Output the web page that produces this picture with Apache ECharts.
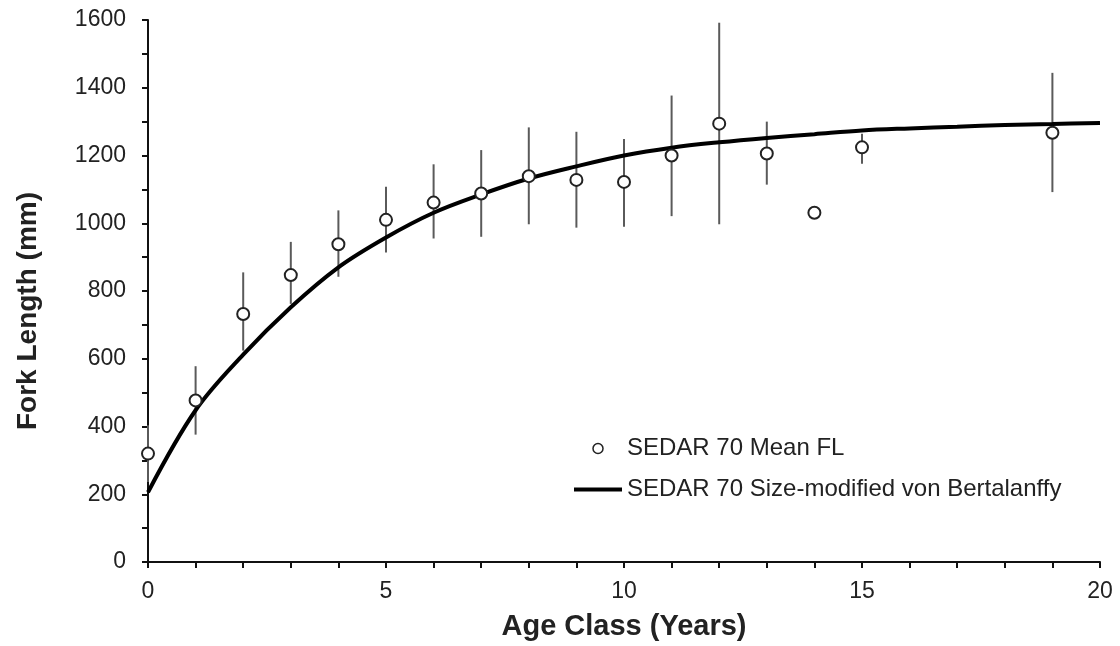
<!DOCTYPE html>
<html>
<head>
<meta charset="utf-8">
<script src="https://cdn.jsdelivr.net/npm/echarts@6/dist/echarts.min.js"></script>
<style>html,body{margin:0;padding:0;background:#fff}#chart{width:1120px;height:646px}</style>
</head>
<body>
<div id="chart"></div>
<script>
// Observed mean fork length by age class, with error bar ends
const ages   = [0, 1, 2, 3, 4, 5, 6, 7, 8, 9, 10, 11, 12, 13, 14, 15, 19];
const meanFL = [320, 477, 732, 847, 938, 1010, 1061, 1088, 1139, 1128, 1122, 1200, 1294, 1206, 1031, 1224, 1267];
const lowFL  = [236, 376, 624, 762, 842, 914, 955, 960, 997, 987, 990, 1021, 997, 1114, null, 1176, 1092];
const highFL = [404, 578, 855, 945, 1038, 1108, 1174, 1216, 1283, 1270, 1249, 1377, 1592, 1300, null, 1264, 1444];
// Size-modified von Bertalanffy curve
const curveAges = [0, 1, 2, 3, 4, 5, 6, 7, 8, 9, 10, 11, 12, 13, 14, 15, 16, 17, 18, 19, 20];
const curveFL   = [206, 448, 612, 752, 870, 958, 1031, 1085, 1132, 1168, 1200, 1223, 1239, 1252, 1263, 1274, 1280, 1285, 1290, 1293, 1296];
const xTickLabels = [0, 5, 10, 15, 20];
const yTickLabels = [0, 200, 400, 600, 800, 1000, 1200, 1400, 1600];
const seriesNames = ['SEDAR 70 Mean FL', 'SEDAR 70 Size-modified von Bertalanffy'];

const FONT = 'Liberation Sans, Arial, sans-serif';
const meanData = ages.map((a, i) => [a, meanFL[i]]);
const barData = ages.map((a, i) => [a, lowFL[i], highFL[i]]).filter(d => d[1] !== null);
const curveData = curveAges.map((a, i) => [a, curveFL[i]]);

const chart = echarts.init(document.getElementById('chart'), null, {renderer: 'canvas'});
chart.setOption({
  backgroundColor: '#fff',
  animation: false,
  grid: {left: 148, right: 20, top: 20, bottom: 82, containLabel: false},
  legend: {
    orient: 'vertical',
    left: 572,
    top: 435,
    padding: 0,
    itemWidth: 48,
    itemHeight: 10,
    itemGap: 14,
    textStyle: {fontFamily: FONT, fontSize: 24, color: '#222', lineHeight: 27},
    data: [
      {name: seriesNames[0], icon: 'circle', itemStyle: {color: '#fff', borderColor: '#222', borderWidth: 1.5}},
      {name: seriesNames[1], itemStyle: {opacity: 0}, lineStyle: {color: '#000', width: 4}}
    ]
  },
  xAxis: {
    type: 'value', min: 0, max: 20, interval: 1,
    name: 'Age Class (Years)', nameLocation: 'middle', nameGap: 50,
    nameTextStyle: {fontFamily: FONT, fontSize: 29, fontWeight: 'bold', color: '#222'},
    axisLine: {lineStyle: {color: '#111', width: 2}},
    axisTick: {show: true, length: 6, lineStyle: {color: '#111', width: 2}},
    axisLabel: {
      margin: 18, fontFamily: FONT, fontSize: 23, color: '#222',
      formatter: v => xTickLabels.includes(v) ? String(v) : ''
    },
    splitLine: {show: false}
  },
  yAxis: {
    type: 'value', min: 0, max: 1600, interval: 100,
    name: 'Fork Length (mm)', nameLocation: 'middle', nameGap: 106,
    nameTextStyle: {fontFamily: FONT, fontSize: 28, fontWeight: 'bold', color: '#222', padding: [0, 40, 0, 0]},
    axisLine: {show: true, lineStyle: {color: '#111', width: 2}},
    axisTick: {show: true, length: 6, lineStyle: {color: '#111', width: 2}},
    axisLabel: {
      margin: 22, fontFamily: FONT, fontSize: 23, color: '#222',
      formatter: v => yTickLabels.includes(v) ? String(v) : ''
    },
    splitLine: {show: false}
  },
  series: [
    {
      name: 'errorbars',
      type: 'custom',
      z: 1,
      silent: true,
      data: barData,
      encode: {x: 0, y: [1, 2]},
      renderItem: (params, api) => {
        const lo = api.coord([api.value(0), api.value(1)]);
        const hi = api.coord([api.value(0), api.value(2)]);
        return {
          type: 'line',
          shape: {x1: lo[0], y1: lo[1], x2: hi[0], y2: hi[1]},
          style: {stroke: '#5a5a5a', lineWidth: 2}
        };
      }
    },
    {
      name: seriesNames[1],
      type: 'line',
      z: 2,
      data: curveData,
      smooth: 0.35,
      symbol: 'none',
      lineStyle: {color: '#000', width: 4},
      itemStyle: {color: '#000'}
    },
    {
      name: seriesNames[0],
      type: 'scatter',
      z: 3,
      data: meanData,
      symbol: 'circle',
      symbolSize: 12,
      itemStyle: {color: '#fff', borderColor: '#222', borderWidth: 2, opacity: 1}
    }
  ]
});
</script>
</body>
</html>
